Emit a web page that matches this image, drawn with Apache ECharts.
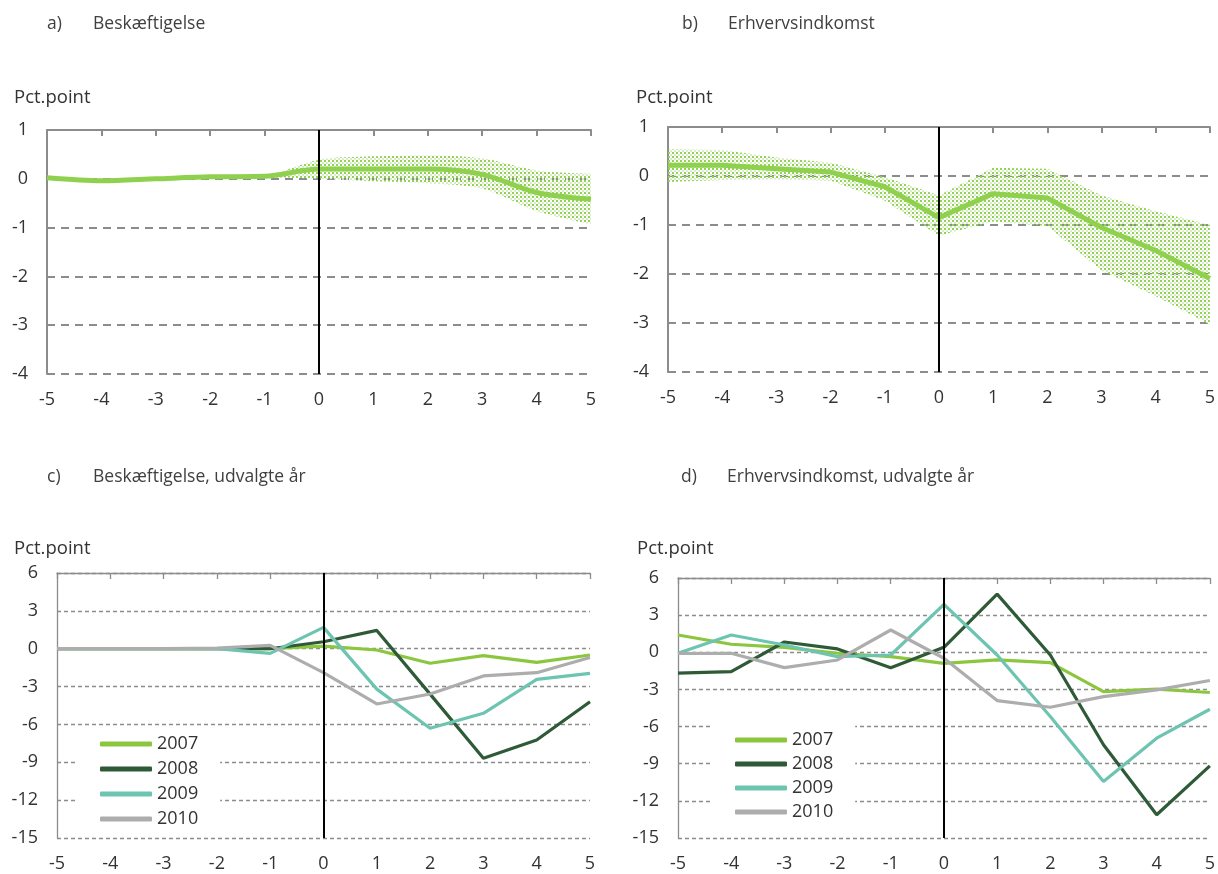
<!DOCTYPE html>
<html>
<head>
<meta charset="utf-8">
<script src="https://cdn.jsdelivr.net/npm/echarts@6/dist/echarts.min.js"></script>
<style>
html,body{margin:0;padding:0;background:#fff;}
#chart{width:1218px;height:874px;}
</style>
</head>
<body>
<div id="chart"></div>
<script>
// ---------- DATA ----------
const xCats = ['-5','-4','-3','-2','-1','0','1','2','3','4','5'];
const eventTime = '0';

// Panel a) Beskæftigelse
const lineA  = [0.02, -0.04, 0.00, 0.04, 0.05, 0.20, 0.20, 0.20, 0.09, -0.28, -0.42];
const upperA = [0.02, -0.04, 0.00, 0.04, 0.07, 0.39, 0.46, 0.48, 0.42, 0.17, 0.10];
const lowerA = [0.02, -0.04, 0.00, 0.04, 0.03, 0.00, -0.05, -0.09, -0.20, -0.66, -0.93];

// Panel b) Erhvervsindkomst
const lineB  = [0.22, 0.22, 0.15, 0.08, -0.22, -0.85, -0.36, -0.45, -1.05, -1.52, -2.09];
const upperB = [0.54, 0.53, 0.38, 0.27, -0.02, -0.40, 0.17, 0.15, -0.40, -0.72, -1.00];
const lowerB = [-0.12, -0.08, -0.07, -0.09, -0.50, -1.22, -0.93, -1.02, -1.93, -2.45, -3.03];

// Panel c) Beskæftigelse, udvalgte år
const yearNames = ['2007','2008','2009','2010'];
const c2007 = [0, 0, 0, 0, 0, 0.20, -0.10, -1.15, -0.55, -1.08, -0.50];
const c2008 = [0, 0, 0, 0, 0, 0.55, 1.45, -3.60, -8.68, -7.23, -4.20];
const c2009 = [0, 0, 0, 0, -0.37, 1.69, -3.20, -6.30, -5.12, -2.43, -1.95];
const c2010 = [0, 0, 0, 0.05, 0.26, -1.90, -4.38, -3.59, -2.16, -1.90, -0.69];

// Panel d) Erhvervsindkomst, udvalgte år
const d2007 = [1.40, 0.65, 0.40, -0.08, -0.35, -0.89, -0.62, -0.83, -3.17, -2.98, -3.25];
const d2008 = [-1.69, -1.56, 0.83, 0.27, -1.24, 0.40, 4.70, -0.22, -7.47, -13.12, -9.17];
const d2009 = [-0.08, 1.40, 0.59, -0.35, -0.22, 3.87, -0.22, -5.19, -10.43, -6.94, -4.60];
const d2010 = [-0.10, -0.08, -1.24, -0.62, 1.80, -0.48, -3.90, -4.44, -3.58, -3.04, -2.28];

const titles = [['a)','Beskæftigelse'],['b)','Erhvervsindkomst'],['c)','Beskæftigelse, udvalgte år'],['d)','Erhvervsindkomst, udvalgte år']];
const yUnit = 'Pct.point';

// ---------- STYLE ----------
const FONT = 'Open Sans';
const TXT = '#333333';
const GRAY = '#8c8c8c';
const mainGreen = '#8fd14f';
const yearColors = ['#8cc63f','#2f5a37','#6dc5b1','#adadad'];

const pat = document.createElement('canvas');
pat.width = 4; pat.height = 4;
const pctx = pat.getContext('2d');
pctx.fillStyle = '#92d254';
pctx.fillRect(0,0,2,2);
pctx.fillStyle = '#d6efc2';
pctx.fillRect(2,2,2,2);

const grids = [
  {left:47,  top:130, width:544, height:244},
  {left:668, top:127, width:542, height:245},
  {left:57,  top:573, width:533, height:265},
  {left:678, top:578, width:532, height:260}
];
const yCfg = [
  {min:-4, max:1, interval:1, dash:[8,6], w:2},
  {min:-4, max:1, interval:1, dash:[8,6], w:2},
  {min:-15, max:6, interval:3, dash:[4,3], w:1.3},
  {min:-15, max:6, interval:3, dash:[4,3], w:1.3}
];

const xAxes = [], yAxes = [];
grids.forEach((g,i)=>{
  xAxes.push({
    gridIndex:i, type:'category', data:xCats, boundaryGap:false, position:'bottom',
    axisLine:{show:false}, axisTick:{show:false}, splitLine:{show:false},
    axisLabel:{fontFamily:FONT, fontSize:18, color:TXT, margin:17}
  });
  xAxes.push({
    gridIndex:i, type:'category', data:xCats, boundaryGap:false, position:'top',
    axisLine:{show:true, onZero:true, lineStyle:{color:GRAY, width:yCfg[i].w}},
    axisTick:{show:true, inside:true, length:6, lineStyle:{color:GRAY, width:yCfg[i].w}},
    axisLabel:{show:false}, splitLine:{show:false}
  });
  yAxes.push({
    gridIndex:i, type:'value', min:yCfg[i].min, max:yCfg[i].max, interval:yCfg[i].interval,
    axisLine:{show:true, lineStyle:{color:GRAY, width:yCfg[i].w}},
    axisTick:{show:false},
    splitLine:{show:true, lineStyle:{color:GRAY, type:yCfg[i].dash, width:yCfg[i].w}},
    axisLabel:{fontFamily:FONT, fontSize:18, color:TXT, margin:19}
  });
});

function vLine(){
  return {symbol:'none', silent:true, label:{show:false},
    lineStyle:{color:'#000', width:2, type:'solid'},
    data:[{xAxis:eventTime}]};
}

function bandSeries(gi, lower, upper, line, smooth){
  const diff = upper.map((u,k)=>+(u - lower[k]).toFixed(3));
  const stackId = 'band'+gi;
  return [
    {type:'line', xAxisIndex:gi*2, yAxisIndex:gi, data:lower, stack:stackId, stackStrategy:'all',
     smooth:smooth, symbol:'none', lineStyle:{opacity:0}, silent:true, z:1},
    {type:'line', xAxisIndex:gi*2, yAxisIndex:gi, data:diff, stack:stackId, stackStrategy:'all',
     smooth:smooth, symbol:'none', lineStyle:{opacity:0}, silent:true, z:1,
     areaStyle:{color:{image:pat, repeat:'repeat'}, opacity:1}},
    {type:'line', xAxisIndex:gi*2, yAxisIndex:gi, data:line, smooth:smooth, symbol:'none',
     lineStyle:{color:mainGreen, width:5}, z:3, markLine:vLine()}
  ];
}

function yearSeries(gi, arrs){
  return arrs.map((arr,k)=>({
    name:yearNames[k], type:'line', xAxisIndex:gi*2, yAxisIndex:gi, data:arr, symbol:'none',
    lineStyle:{color:yearColors[k], width:3.2}, itemStyle:{color:yearColors[k]}, z:3,
    markLine: k===arrs.length-1 ? vLine() : undefined
  }));
}

const series = [].concat(
  bandSeries(0, lowerA, upperA, lineA, 0.3),
  bandSeries(1, lowerB, upperB, lineB, false),
  yearSeries(2, [c2007,c2008,c2009,c2010]),
  yearSeries(3, [d2007,d2008,d2009,d2010])
);

const titlePos = [[47,15],[682,15],[47,468],[681,468]];
const unitPos = [[14,88],[636,88],[14,539],[637,539]];
const graphics = [];
titles.forEach((t,i)=>{
  graphics.push({type:'text', left:titlePos[i][0], top:titlePos[i][1],
    style:{text:t[0], font:'17.5px "Open Sans"', fill:'#404040'}});
  graphics.push({type:'text', left:titlePos[i][0]+46, top:titlePos[i][1],
    style:{text:t[1], font:'17.5px "Open Sans"', fill:'#404040'}});
  graphics.push({type:'text', left:unitPos[i][0], top:unitPos[i][1],
    style:{text:yUnit, font:'18.5px "Open Sans"', fill:TXT}});
});

function legendCfg(gi, left, top, gap){
  return {
    data:yearNames, orient:'vertical', left:left, top:top,
    padding:[6,22,6,22], backgroundColor:'#fff', itemGap:gap,
    itemWidth:52, itemHeight:5, icon:'roundRect',
    textStyle:{fontFamily:FONT, fontSize:18, color:TXT, lineHeight:20},
    selectedMode:false, z:5
  };
}

const option = {
  animation:false,
  backgroundColor:'#fff',
  grid:grids,
  xAxis:xAxes,
  yAxis:yAxes,
  series:series,
  legend:[legendCfg(2, 78, 728, 5), legendCfg(3, 713, 724, 4)],
  graphic:graphics
};

const chart = echarts.init(document.getElementById('chart'), null, {renderer:'canvas'});
chart.setOption(option);
</script>
</body>
</html>
